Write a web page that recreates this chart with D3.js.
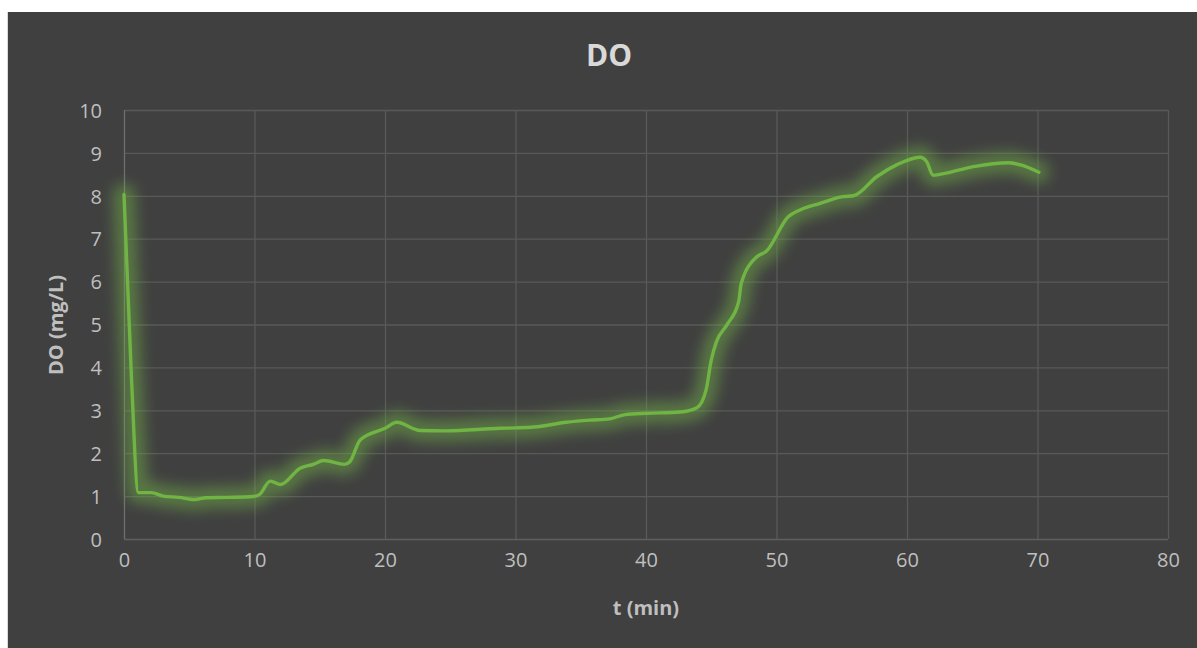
<!DOCTYPE html>
<html>
<head>
<meta charset="utf-8">
<script src="https://cdn.jsdelivr.net/npm/d3@7"></script>
<style>
  html, body { margin: 0; padding: 0; background: #ffffff; }
  svg { display: block; }
</style>
</head>
<body>
<svg id="chart" width="1197" height="648"></svg>
<script>
// Dissolved oxygen measurements over time
const timeMin = [0, 0.55, 1.1, 2.1, 3.0, 4.2, 5.4, 6.3, 8.0, 9.9, 10.4, 11.2, 12.0, 13.5, 14.5, 15.3, 16.9, 17.3, 18.1, 20.0, 20.9, 22.7, 24.7, 28.8, 30.1, 31.4, 33.9, 35.7, 37.2, 38.4, 40.1, 42.6, 43.9, 44.6, 45.0, 45.4, 46.2, 47.1, 47.3, 48.5, 49.2, 50.9, 51.8, 53.3, 55.1, 55.9, 57.7, 59.2, 61.0, 61.5, 62.0, 63.0, 65.1, 67.8, 68.7, 70.1];
const doValue = [8.03, 3.9, 1.08, 1.08, 1.0, 0.97, 0.92, 0.96, 0.97, 0.99, 1.04, 1.35, 1.27, 1.65, 1.74, 1.83, 1.74, 1.8, 2.31, 2.58, 2.72, 2.53, 2.52, 2.58, 2.59, 2.61, 2.72, 2.77, 2.8, 2.9, 2.93, 2.96, 3.06, 3.47, 4.17, 4.6, 4.99, 5.53, 5.96, 6.58, 6.7, 7.51, 7.67, 7.82, 7.98, 8.0, 8.45, 8.72, 8.9, 8.8, 8.48, 8.53, 8.68, 8.77, 8.72, 8.55];
const xTicks = [0, 10, 20, 30, 40, 50, 60, 70, 80];
const yTicks = [0, 1, 2, 3, 4, 5, 6, 7, 8, 9, 10];

const chartTitle = "DO";
const xTitle = "t (min)";
const yTitle = "DO (mg/L)";

const svg = d3.select("#chart");
const W = 1197, H = 648;

// chart panel
svg.append("rect").attr("x", 7).attr("y", 12).attr("width", 1).attr("height", H - 12).attr("fill", "#d9d9d9");
svg.append("rect").attr("x", 8).attr("y", 12).attr("width", W - 8).attr("height", H - 12).attr("fill", "#404040");

const plot = { left: 124, right: 1168, top: 110, bottom: 539 };

const x = d3.scaleLinear().domain([0, 80]).range([plot.left, plot.right]);
const y = d3.scaleLinear().domain([0, 10]).range([plot.bottom, plot.top]);

const font = "'Open Sans', 'Noto Sans', sans-serif";

// gridlines
const grid = svg.append("g");
grid.selectAll("line.h").data(yTicks.filter(d => d > 0)).join("line")
  .attr("x1", plot.left).attr("x2", plot.right)
  .attr("y1", d => y(d) + 0.5).attr("y2", d => y(d) + 0.5)
  .attr("stroke", "#595959").attr("stroke-width", 1.3);
grid.selectAll("line.v").data(xTicks.filter(d => d > 0)).join("line")
  .attr("x1", d => x(d) + 0.5).attr("x2", d => x(d) + 0.5)
  .attr("y1", plot.top).attr("y2", plot.bottom)
  .attr("stroke", "#595959").attr("stroke-width", 1.3);

// axis lines
svg.append("line").attr("x1", plot.left).attr("x2", plot.right)
  .attr("y1", plot.bottom + 0.5).attr("y2", plot.bottom + 0.5)
  .attr("stroke", "#5f5f5f").attr("stroke-width", 1.3);
svg.append("line").attr("x1", plot.left + 0.5).attr("x2", plot.left + 0.5)
  .attr("y1", plot.top).attr("y2", plot.bottom)
  .attr("stroke", "#6f6f6f").attr("stroke-width", 1.3);

// axes (labels only)
const xAxis = svg.append("g").attr("transform", `translate(0,${plot.bottom})`)
  .call(d3.axisBottom(x).tickValues(xTicks).tickSize(0).tickPadding(24).tickFormat(d3.format("d")));
const yAxis = svg.append("g").attr("transform", `translate(${plot.left},0)`)
  .call(d3.axisLeft(y).tickValues(yTicks).tickSize(0).tickPadding(22).tickFormat(d3.format("d")));
[xAxis, yAxis].forEach(g => {
  g.select(".domain").remove();
  g.selectAll("text").attr("fill", "#bfbfbf").style("font-family", font).style("font-size", "20px");
});
xAxis.selectAll("text").attr("dy", "0.2em");
yAxis.selectAll("text").attr("dy", "0.36em");

// titles
svg.append("text").attr("x", 609).attr("y", 66).attr("text-anchor", "middle")
  .attr("fill", "#d9d9d9").style("font-family", font).style("font-weight", "700").style("font-size", "30px")
  .text(chartTitle);
svg.append("text").attr("x", 646).attr("y", 615).attr("text-anchor", "middle")
  .attr("fill", "#bfbfbf").style("font-family", font).style("font-weight", "700").style("font-size", "20px")
  .text(xTitle);
svg.append("text").attr("transform", "translate(63,325) rotate(-90)").attr("text-anchor", "middle")
  .attr("fill", "#bfbfbf").style("font-family", font).style("font-weight", "700").style("font-size", "20px")
  .text(yTitle);

// series line with soft glow
const data = timeMin.map((t, i) => ({ t, v: doValue[i] }));
const line = d3.line().x(d => x(d.t)).y(d => y(d.v)).curve(d3.curveMonotoneX);

const defs = svg.append("defs");
defs.append("filter").attr("id", "glow").attr("x", "-10%").attr("y", "-10%").attr("width", "120%").attr("height", "120%")
  .append("feGaussianBlur").attr("stdDeviation", 7);

svg.append("path").datum(data).attr("d", line)
  .attr("fill", "none").attr("stroke", "#6fae45").attr("stroke-opacity", 0.5)
  .attr("stroke-width", 22).attr("stroke-linejoin", "round").attr("stroke-linecap", "round")
  .attr("filter", "url(#glow)");
svg.append("path").datum(data).attr("d", line)
  .attr("fill", "none").attr("stroke", "#70b443").attr("stroke-width", 3.4)
  .attr("stroke-linejoin", "round").attr("stroke-linecap", "round");
</script>
</body>
</html>
